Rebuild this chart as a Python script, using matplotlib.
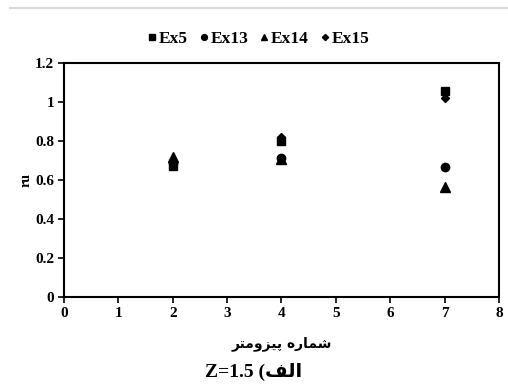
import numpy as np
import matplotlib.pyplot as plt
from matplotlib.lines import Line2D

piezometer = [2, 4, 7]
ex5 = [0.67, 0.80, 1.055]
ex13 = [0.69, 0.715, 0.665]
ex14 = [0.72, 0.71, 0.565]
ex15 = [0.70, 0.82, 1.02]

series_names = ["Ex5", "Ex13", "Ex14", "Ex15"]
series_markers = ["s", "o", "^", "D"]
series_sizes = [6, 6, 6.5, 4.5]

# Persian text written with presentation forms, in visual (left-to-right) order
xlabel_fa = "\uFEAE\uFE98\uFEE3\uFEED\uFEB0\uFEF4\uFB58 \uFEE9\uFEAD\uFE8E\uFEE4\uFEB7"
caption = "Z=1.5 (" + "\uFED2\uFEDF\uFE8D"

fonts = ["Liberation Serif", "DejaVu Sans"]
plt.rcParams["font.family"] = fonts
plt.rcParams["font.weight"] = "bold"

fig = plt.figure(figsize=(5.08, 3.9), dpi=100)
ax = fig.add_axes([0.126, 0.2385, 0.856, 0.5995])

for vals, name, m, ms in zip([ex5, ex13, ex14, ex15], series_names, series_markers, series_sizes):
    ax.plot(piezometer, vals, linestyle="none", marker=m, markersize=ms,
            color="black", label=name)

ax.set_xlim(0, 8)
ax.set_ylim(0, 1.2)
ax.set_xticks(np.arange(0, 9, 1))
ax.set_yticks(np.arange(0, 1.21, 0.2))
ax.yaxis.set_major_formatter(plt.FuncFormatter(lambda v, p: "%g" % round(v, 1)))
ax.tick_params(direction="out", length=4, width=1.2, labelsize=11, pad=3)
for lbl in ax.get_xticklabels() + ax.get_yticklabels():
    lbl.set_fontweight("bold")
for s in ax.spines.values():
    s.set_linewidth(1.5)

ax.set_ylabel("ru", fontsize=10, fontweight="bold", labelpad=2)
ax.set_xlabel(xlabel_fa, fontsize=10, fontweight="bold", family=["DejaVu Sans"], labelpad=12)

fig.legend(loc="center", bbox_to_anchor=(0.51, 0.9), ncol=4, frameon=False,
           prop={"family": fonts, "weight": "bold", "size": 12.5},
           handlelength=0.4, handletextpad=0.2, columnspacing=0.7, markerscale=0.7)

fig.text(0.5, 0.047, caption, ha="center", va="center", fontsize=14,
         fontweight="bold", family=fonts)

fig.add_artist(Line2D([0.02, 1.0], [0.979, 0.979], color="#d9d9d9", linewidth=1.5))

fig.savefig("out.png", dpi=100)
